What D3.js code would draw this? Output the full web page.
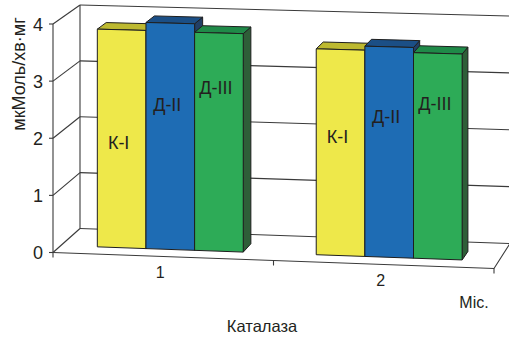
<!DOCTYPE html>
<html>
<head>
<meta charset="utf-8">
<script src="https://cdn.jsdelivr.net/npm/d3@7/dist/d3.min.js"></script>
<style>
  body { margin: 0; background: #fff; }
  svg { display: block; font-family: "Liberation Sans", Arial, sans-serif; }
  .barlabel { font-family: "Liberation Sans Narrow", "Arial Narrow", "Liberation Sans", Arial, sans-serif; }
</style>
</head>
<body>
<svg id="chart" width="509" height="339"></svg>
<script>
// ---- data ----
const categories = ["1", "2"];
const seriesNames = ["К-I", "Д-II", "Д-III"];
const valuesK1 = [3.83, 3.59];
const valuesD2 = [3.97, 3.66];
const valuesD3 = [3.82, 3.57];
const yTicks = [0, 1, 2, 3, 4];
const yTitle = "мкМоль/хв·мг";
const xTitle = "Каталаза";
const xUnit = "Міс.";

// ---- layout ----
// corners of the 3-D plot box on screen (bottom plane and top plane)
const box = {
  f0: [53, 252.5], f1: [494, 268.5], b0: [80, 228.5], b1: [510, 243.5],
  f0t: [53, 24], f1t: [494, 36], b0t: [80, 5], b1t: [510, 16]
};
const barDepth = [0.29, 0.63];          // bar front/back along the depth axis
const labelLevel = [[1.85, 2.07], [2.54, 2.44], [2.87, 2.69]]; // series-name label height, value units

const faceColors = {
  "К-I":   { front: "#eee84a", top: "#bdb930", side: "#8f8b22" },
  "Д-II":  { front: "#1e6cb4", top: "#1b4f86", side: "#223f66" },
  "Д-III": { front: "#2dab57", top: "#1f8a48", side: "#2e5e38" }
};

const series = seriesNames.map((name, i) => ({
  name, values: [valuesK1, valuesD2, valuesD3][i], labels: labelLevel[i]
}));

const lerp = (a, b, t) => [a[0] + (b[0] - a[0]) * t, a[1] + (b[1] - a[1]) * t];
// (u along categories, w depth, t height fraction) -> screen point
function project(u, w, t) {
  const bot = lerp(lerp(box.f0, box.f1, u), lerp(box.b0, box.b1, u), w);
  const top = lerp(lerp(box.f0t, box.f1t, u), lerp(box.b0t, box.b1t, u), w);
  return lerp(bot, top, t);
}

const x0 = d3.scaleBand().domain(categories).range([0, 1]).padding(0);
const groupW = x0.bandwidth() * 2 / 3;
const x1 = d3.scaleBand().domain(seriesNames).range([0, groupW]).padding(0);
const y = d3.scaleLinear().domain([0, 4]).range([0, 1]);

const svg = d3.select("#chart");
const line = d3.line();
const gridColor = "#3a3a3a";

// ---- walls & gridlines ----
const g = svg.append("g").attr("fill", "none").attr("stroke", gridColor).attr("stroke-width", 1.1);
yTicks.forEach(v => {
  const t = y(v);
  g.append("path").attr("d", line([project(0, 0, t), project(0, 1, t)]));   // side wall
  g.append("path").attr("d", line([project(0, 1, t), project(1, 1, t)]));   // back wall
  const p = project(0, 0, t);
  g.append("path").attr("d", line([[p[0] - 4, p[1]], p]));                 // tick
});
g.append("path").attr("d", line([project(0, 1, 0), project(0, 1, 1)]));
g.append("path").attr("d", line([project(0, 0, 0), project(0, 0, 1)]));
// floor
g.append("path").attr("d", line([project(0, 0, 0), project(1, 0, 0), project(1, 1, 0)]));
[0, 0.5, 1].forEach(u => {
  const p = project(u, 0, 0);
  g.append("path").attr("d", line([p, [p[0], p[1] + 5]]));
});

// ---- bars ----
const bars = svg.append("g").attr("stroke", "#1e1e1e").attr("stroke-width", 1).attr("stroke-linejoin", "round");
const [w0, w1] = barDepth;
categories.forEach((c, ci) => {
  series.forEach(s => {
    const uL = x0(c) + (x0.bandwidth() - groupW) / 2 + x1(s.name);
    const uR = uL + x1.bandwidth();
    const t = y(s.values[ci]);
    const col = faceColors[s.name];
    bars.append("path").attr("fill", col.side)
      .attr("d", line([project(uR, w0, 0), project(uR, w1, 0), project(uR, w1, t), project(uR, w0, t)]) + "Z");
    bars.append("path").attr("fill", col.top)
      .attr("d", line([project(uL, w0, t), project(uR, w0, t), project(uR, w1, t), project(uL, w1, t)]) + "Z");
    bars.append("path").attr("fill", col.front)
      .attr("d", line([project(uL, w0, 0), project(uR, w0, 0), project(uR, w0, t), project(uL, w0, t)]) + "Z");
  });
});

// ---- series-name labels on the bars ----
categories.forEach((c, ci) => {
  series.forEach(s => {
    const uM = x0(c) + (x0.bandwidth() - groupW) / 2 + x1(s.name) + x1.bandwidth() / 2;
    const p = project(uM, w0, y(s.labels[ci]));
    svg.append("text").attr("class", "barlabel").attr("x", p[0] - 3).attr("y", p[1] + 6.4)
      .attr("text-anchor", "middle").attr("font-size", 18).attr("fill", "#231f20")
      .text(s.name);
  });
});

// ---- axis labels ----
yTicks.forEach(v => {
  const p = project(0, 0, y(v));
  svg.append("text").attr("x", p[0] - 10).attr("y", p[1] + 6.5)
    .attr("text-anchor", "end").attr("font-size", 18).attr("fill", "#231f20").text(v);
});
categories.forEach(c => {
  const p = project(x0(c) + x0.bandwidth() / 2, 0, 0);
  svg.append("text").attr("x", p[0] - 3).attr("y", p[1] + 21.5)
    .attr("text-anchor", "middle").attr("font-size", 16).attr("fill", "#231f20").text(c);
});
svg.append("text").attr("x", 474).attr("y", 308).attr("text-anchor", "middle")
  .attr("font-size", 16).attr("fill", "#231f20").text(xUnit);
svg.append("text").attr("x", 262).attr("y", 332).attr("text-anchor", "middle")
  .attr("font-size", 16.5).attr("fill", "#231f20").text(xTitle);
svg.append("text").attr("transform", "translate(25,74) rotate(-90)").attr("text-anchor", "middle")
  .attr("font-size", 18).attr("fill", "#231f20").text(yTitle);
</script>
</body>
</html>
